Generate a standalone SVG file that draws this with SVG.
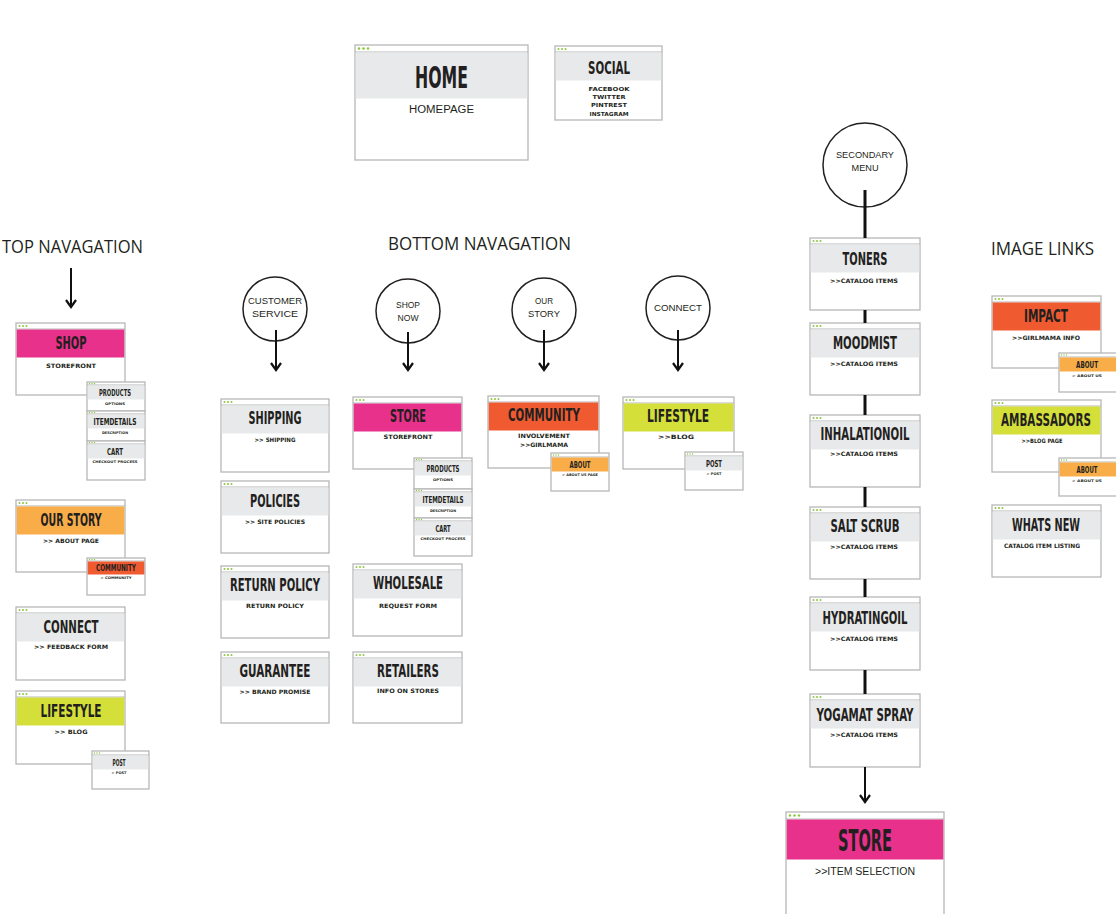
<svg xmlns="http://www.w3.org/2000/svg" width="1116" height="914" viewBox="0 0 1116 914">
<style>
.fr{fill:#fff;stroke:#b7b7b7;stroke-width:1.3}
.sp{stroke:#b7b7b7;stroke-width:1}
.d{fill:#8dc63f}
.g{fill:#e8e9ea}
.pk{fill:#e8318a}
.or{fill:#f9ad49}
.rd{fill:#ef5a30}
.yl{fill:#d5df3a}
.t{font-family:"Liberation Sans Narrow","DejaVu Sans Condensed",sans-serif;font-weight:bold;text-anchor:middle;fill:#231f20}
.s{font-family:"DejaVu Sans","Liberation Sans",sans-serif;font-weight:bold;text-anchor:middle;fill:#231f20}
.c{fill:#fff;stroke:#231f20;stroke-width:1.5}
.ct{font-family:"Liberation Sans",sans-serif;font-size:9px;text-anchor:middle;fill:#231f20}
.h{font-family:"Open Sans","Liberation Sans",sans-serif;font-size:18px;fill:#231f20}
.ln{stroke:#111;stroke-width:2;fill:none}
.lt{stroke:#111;stroke-width:3;fill:none}
</style>
<defs>
<marker id="ah" markerUnits="userSpaceOnUse" markerWidth="10" markerHeight="12" refX="8" refY="6" orient="auto" viewBox="0 0 10 12">
<path d="M1,1 L8,6 L1,11" fill="none" stroke="#111" stroke-width="2.2"/>
</marker>
</defs>
<rect width="1116" height="914" fill="#fff"/>

<g id="labels">
<text class="h" x="2" y="253" textLength="141" lengthAdjust="spacingAndGlyphs">TOP NAVAGATION</text>
<text class="h" x="388" y="250" textLength="183" lengthAdjust="spacingAndGlyphs">BOTTOM NAVAGATION</text>
<text class="h" x="991" y="255" textLength="103" lengthAdjust="spacingAndGlyphs">IMAGE LINKS</text>
</g>

<g id="home">
<rect class="fr" x="355" y="45" width="173" height="115"/>
<line class="sp" x1="355" y1="52" x2="528" y2="52"/>
<circle class="d" cx="359" cy="48.5" r="1.3"/><circle class="d" cx="363.5" cy="48.5" r="1.3"/><circle class="d" cx="368" cy="48.5" r="1.3"/>
<rect class="g" x="355.7" y="52.5" width="171.6" height="46"/>
<text class="t" x="441.5" y="88" font-size="30" textLength="53" lengthAdjust="spacingAndGlyphs">HOME</text>
<text x="441.5" y="113" font-family="Liberation Sans,sans-serif" font-size="10" text-anchor="middle" fill="#231f20" textLength="65" lengthAdjust="spacingAndGlyphs">HOMEPAGE</text>
</g>

<g id="social">
<rect class="fr" x="555" y="46" width="107" height="74"/>
<line class="sp" x1="555" y1="52" x2="662" y2="52"/>
<circle class="d" cx="558.5" cy="49" r="1"/><circle class="d" cx="562" cy="49" r="1"/><circle class="d" cx="565.5" cy="49" r="1"/>
<rect class="g" x="555.7" y="52.5" width="105.6" height="28"/>
<text class="t" x="609" y="74" font-size="17" textLength="42" lengthAdjust="spacingAndGlyphs">SOCIAL</text>
<text class="s" x="609" y="91" font-size="5.5" textLength="41" lengthAdjust="spacingAndGlyphs">FACEBOOK</text>
<text class="s" x="609" y="99" font-size="5.5" textLength="33" lengthAdjust="spacingAndGlyphs">TWITTER</text>
<text class="s" x="609" y="107" font-size="5.5" textLength="36" lengthAdjust="spacingAndGlyphs">PINTREST</text>
<text class="s" x="609" y="116" font-size="5.5" textLength="39" lengthAdjust="spacingAndGlyphs">INSTAGRAM</text>
</g>

<g id="shop">
<rect class="fr" x="16" y="323" width="109" height="72"/>
<line class="sp" x1="16" y1="329" x2="125" y2="329"/>
<circle class="d" cx="19.5" cy="326" r="1"/><circle class="d" cx="23" cy="326" r="1"/><circle class="d" cx="26.5" cy="326" r="1"/>
<rect class="pk" x="16.7" y="329.5" width="107.6" height="28"/>
<text class="t" x="71" y="349" font-size="17" textLength="31" lengthAdjust="spacingAndGlyphs">SHOP</text>
<text class="s" x="71" y="368" font-size="6" textLength="50" lengthAdjust="spacingAndGlyphs">STOREFRONT</text>
</g>
<g id="shop-products">
<rect class="fr" x="87" y="382" width="58" height="29"/>
<line class="sp" x1="87" y1="385" x2="145" y2="385"/>
<circle class="d" cx="89.5" cy="383.5" r="0.7"/><circle class="d" cx="92" cy="383.5" r="0.7"/><circle class="d" cx="94.5" cy="383.5" r="0.7"/>
<rect class="g" x="87.7" y="385.5" width="56.6" height="14"/>
<text class="t" x="115" y="396" font-size="9" textLength="32" lengthAdjust="spacingAndGlyphs">PRODUCTS</text>
<text class="s" x="115" y="405" font-size="3.5" textLength="20" lengthAdjust="spacingAndGlyphs">OPTIONS</text>
</g>
<g id="shop-itemdetails">
<rect class="fr" x="87" y="411" width="58" height="30"/>
<line class="sp" x1="87" y1="414" x2="145" y2="414"/>
<circle class="d" cx="89.5" cy="412.5" r="0.7"/><circle class="d" cx="92" cy="412.5" r="0.7"/><circle class="d" cx="94.5" cy="412.5" r="0.7"/>
<rect class="g" x="87.7" y="414.5" width="56.6" height="14"/>
<text class="t" x="115" y="425" font-size="9" textLength="43" lengthAdjust="spacingAndGlyphs">ITEMDETAILS</text>
<text class="s" x="115" y="434" font-size="3.5" textLength="26" lengthAdjust="spacingAndGlyphs">DESCRIPTION</text>
</g>
<g id="shop-cart">
<rect class="fr" x="87" y="441" width="58" height="39"/>
<line class="sp" x1="87" y1="444" x2="145" y2="444"/>
<circle class="d" cx="89.5" cy="442.5" r="0.7"/><circle class="d" cx="92" cy="442.5" r="0.7"/><circle class="d" cx="94.5" cy="442.5" r="0.7"/>
<rect class="g" x="87.7" y="444.5" width="56.6" height="14"/>
<text class="t" x="115" y="455" font-size="9" textLength="16" lengthAdjust="spacingAndGlyphs">CART</text>
<text class="s" x="115" y="463" font-size="3.5" textLength="45" lengthAdjust="spacingAndGlyphs">CHECKOUT PROCESS</text>
</g>

<g id="our-story">
<rect class="fr" x="16" y="500" width="109" height="72"/>
<line class="sp" x1="16" y1="506" x2="125" y2="506"/>
<circle class="d" cx="19.5" cy="503" r="1"/><circle class="d" cx="23" cy="503" r="1"/><circle class="d" cx="26.5" cy="503" r="1"/>
<rect class="or" x="16.7" y="506.5" width="107.6" height="28"/>
<text class="t" x="71" y="526" font-size="17" textLength="61" lengthAdjust="spacingAndGlyphs">OUR STORY</text>
<text class="s" x="71" y="543" font-size="6" textLength="56" lengthAdjust="spacingAndGlyphs">&gt;&gt; ABOUT PAGE</text>
</g>
<g id="our-story-community">
<rect class="fr" x="87" y="558" width="58" height="37"/>
<line class="sp" x1="87" y1="561" x2="145" y2="561"/>
<circle class="d" cx="89.5" cy="559.5" r="0.7"/><circle class="d" cx="92" cy="559.5" r="0.7"/><circle class="d" cx="94.5" cy="559.5" r="0.7"/>
<rect class="rd" x="87.7" y="561.5" width="56.6" height="13"/>
<text class="t" x="116" y="571" font-size="8" textLength="40" lengthAdjust="spacingAndGlyphs">COMMUNITY</text>
<text class="s" x="116" y="579" font-size="3.5" textLength="31" lengthAdjust="spacingAndGlyphs">&gt; COMMUNITY</text>
</g>

<g id="connect">
<rect class="fr" x="16" y="607" width="109" height="73"/>
<line class="sp" x1="16" y1="613" x2="125" y2="613"/>
<circle class="d" cx="19.5" cy="610" r="1"/><circle class="d" cx="23" cy="610" r="1"/><circle class="d" cx="26.5" cy="610" r="1"/>
<rect class="g" x="16.7" y="613.5" width="107.6" height="28"/>
<text class="t" x="71" y="633" font-size="17" textLength="55" lengthAdjust="spacingAndGlyphs">CONNECT</text>
<text class="s" x="71" y="649" font-size="6" textLength="74" lengthAdjust="spacingAndGlyphs">&gt;&gt; FEEDBACK FORM</text>
</g>

<g id="lifestyle">
<rect class="fr" x="16" y="691" width="109" height="73"/>
<line class="sp" x1="16" y1="697" x2="125" y2="697"/>
<circle class="d" cx="19.5" cy="694" r="1"/><circle class="d" cx="23" cy="694" r="1"/><circle class="d" cx="26.5" cy="694" r="1"/>
<rect class="yl" x="16.7" y="697.5" width="107.6" height="28"/>
<text class="t" x="71" y="717" font-size="17" textLength="61" lengthAdjust="spacingAndGlyphs">LIFESTYLE</text>
<text class="s" x="71" y="734" font-size="6" textLength="33" lengthAdjust="spacingAndGlyphs">&gt;&gt; BLOG</text>
</g>
<g id="lifestyle-post">
<rect class="fr" x="92" y="751" width="57" height="38"/>
<line class="sp" x1="92" y1="755" x2="149" y2="755"/>
<circle class="d" cx="94.5" cy="753" r="0.7"/><circle class="d" cx="97" cy="753" r="0.7"/><circle class="d" cx="99.5" cy="753" r="0.7"/>
<rect class="g" x="92.7" y="755.5" width="55.6" height="14"/>
<text class="t" x="119" y="766" font-size="9" textLength="13" lengthAdjust="spacingAndGlyphs">POST</text>
<text class="s" x="119" y="774" font-size="3.5" textLength="15" lengthAdjust="spacingAndGlyphs">&gt; POST</text>
</g>

<g id="customer-service">
<circle class="c" cx="275" cy="309" r="32"/>
<text class="ct" x="275" y="304" textLength="54" lengthAdjust="spacingAndGlyphs">CUSTOMER</text>
<text class="ct" x="275" y="317" textLength="46" lengthAdjust="spacingAndGlyphs">SERVICE</text>
</g>
<g id="shop-now">
<circle class="c" cx="408" cy="311" r="32"/>
<text class="ct" x="408" y="308" textLength="24" lengthAdjust="spacingAndGlyphs">SHOP</text>
<text class="ct" x="408" y="321" textLength="21" lengthAdjust="spacingAndGlyphs">NOW</text>
</g>
<g id="our-story-circle">
<circle class="c" cx="544" cy="310" r="32"/>
<text class="ct" x="544" y="304" textLength="18" lengthAdjust="spacingAndGlyphs">OUR</text>
<text class="ct" x="544" y="317" textLength="32" lengthAdjust="spacingAndGlyphs">STORY</text>
</g>
<g id="connect-circle">
<circle class="c" cx="678" cy="308" r="32"/>
<text class="ct" x="678" y="311" textLength="48" lengthAdjust="spacingAndGlyphs">CONNECT</text>
</g>

<g id="shipping">
<rect class="fr" x="221" y="399" width="108" height="73"/>
<line class="sp" x1="221" y1="405" x2="329" y2="405"/>
<circle class="d" cx="224.5" cy="402" r="1"/><circle class="d" cx="228" cy="402" r="1"/><circle class="d" cx="231.5" cy="402" r="1"/>
<rect class="g" x="221.7" y="405.5" width="106.6" height="28"/>
<text class="t" x="275" y="424" font-size="17" textLength="53" lengthAdjust="spacingAndGlyphs">SHIPPING</text>
<text class="s" x="275" y="442" font-size="6" textLength="41" lengthAdjust="spacingAndGlyphs">&gt;&gt; SHIPPING</text>
</g>
<g id="policies">
<rect class="fr" x="221" y="481" width="108" height="72"/>
<line class="sp" x1="221" y1="487" x2="329" y2="487"/>
<circle class="d" cx="224.5" cy="484" r="1"/><circle class="d" cx="228" cy="484" r="1"/><circle class="d" cx="231.5" cy="484" r="1"/>
<rect class="g" x="221.7" y="487.5" width="106.6" height="28"/>
<text class="t" x="275" y="507" font-size="17" textLength="50" lengthAdjust="spacingAndGlyphs">POLICIES</text>
<text class="s" x="275" y="524" font-size="6" textLength="60" lengthAdjust="spacingAndGlyphs">&gt;&gt; SITE POLICIES</text>
</g>
<g id="return-policy">
<rect class="fr" x="221" y="566" width="108" height="72"/>
<line class="sp" x1="221" y1="572" x2="329" y2="572"/>
<circle class="d" cx="224.5" cy="569" r="1"/><circle class="d" cx="228" cy="569" r="1"/><circle class="d" cx="231.5" cy="569" r="1"/>
<rect class="g" x="221.7" y="572.5" width="106.6" height="28"/>
<text class="t" x="275" y="591" font-size="17" textLength="90" lengthAdjust="spacingAndGlyphs">RETURN POLICY</text>
<text class="s" x="275" y="608" font-size="6" textLength="58" lengthAdjust="spacingAndGlyphs">RETURN POLICY</text>
</g>
<g id="guarantee">
<rect class="fr" x="221" y="652" width="108" height="71"/>
<line class="sp" x1="221" y1="658" x2="329" y2="658"/>
<circle class="d" cx="224.5" cy="655" r="1"/><circle class="d" cx="228" cy="655" r="1"/><circle class="d" cx="231.5" cy="655" r="1"/>
<rect class="g" x="221.7" y="658.5" width="106.6" height="28"/>
<text class="t" x="275" y="677" font-size="17" textLength="71" lengthAdjust="spacingAndGlyphs">GUARANTEE</text>
<text class="s" x="275" y="694" font-size="6" textLength="71" lengthAdjust="spacingAndGlyphs">&gt;&gt; BRAND PROMISE</text>
</g>

<g id="store">
<rect class="fr" x="353" y="397" width="109" height="72"/>
<line class="sp" x1="353" y1="403" x2="462" y2="403"/>
<circle class="d" cx="356.5" cy="400" r="1"/><circle class="d" cx="360" cy="400" r="1"/><circle class="d" cx="363.5" cy="400" r="1"/>
<rect class="pk" x="353.7" y="403.5" width="107.6" height="28"/>
<text class="t" x="408" y="422" font-size="17" textLength="36" lengthAdjust="spacingAndGlyphs">STORE</text>
<text class="s" x="408" y="439" font-size="6" textLength="49" lengthAdjust="spacingAndGlyphs">STOREFRONT</text>
</g>
<g id="store-products">
<rect class="fr" x="414" y="458" width="58" height="31"/>
<line class="sp" x1="414" y1="461" x2="472" y2="461"/>
<circle class="d" cx="416.5" cy="459.5" r="0.7"/><circle class="d" cx="419" cy="459.5" r="0.7"/><circle class="d" cx="421.5" cy="459.5" r="0.7"/>
<rect class="g" x="414.7" y="461.5" width="56.6" height="14"/>
<text class="t" x="443" y="472" font-size="9" textLength="33" lengthAdjust="spacingAndGlyphs">PRODUCTS</text>
<text class="s" x="443" y="481" font-size="3.5" textLength="20" lengthAdjust="spacingAndGlyphs">OPTIONS</text>
</g>
<g id="store-itemdetails">
<rect class="fr" x="414" y="489" width="58" height="29"/>
<line class="sp" x1="414" y1="492" x2="472" y2="492"/>
<circle class="d" cx="416.5" cy="490.5" r="0.7"/><circle class="d" cx="419" cy="490.5" r="0.7"/><circle class="d" cx="421.5" cy="490.5" r="0.7"/>
<rect class="g" x="414.7" y="492.5" width="56.6" height="14"/>
<text class="t" x="443" y="503" font-size="9" textLength="41" lengthAdjust="spacingAndGlyphs">ITEMDETAILS</text>
<text class="s" x="443" y="512" font-size="3.5" textLength="26" lengthAdjust="spacingAndGlyphs">DESCRIPTION</text>
</g>
<g id="store-cart">
<rect class="fr" x="414" y="518" width="58" height="38"/>
<line class="sp" x1="414" y1="521" x2="472" y2="521"/>
<circle class="d" cx="416.5" cy="519.5" r="0.7"/><circle class="d" cx="419" cy="519.5" r="0.7"/><circle class="d" cx="421.5" cy="519.5" r="0.7"/>
<rect class="g" x="414.7" y="521.5" width="56.6" height="14"/>
<text class="t" x="443" y="532" font-size="9" textLength="15" lengthAdjust="spacingAndGlyphs">CART</text>
<text class="s" x="443" y="540" font-size="3.5" textLength="45" lengthAdjust="spacingAndGlyphs">CHECKOUT PROCESS</text>
</g>
<g id="wholesale">
<rect class="fr" x="353" y="564" width="109" height="72"/>
<line class="sp" x1="353" y1="570" x2="462" y2="570"/>
<circle class="d" cx="356.5" cy="567" r="1"/><circle class="d" cx="360" cy="567" r="1"/><circle class="d" cx="363.5" cy="567" r="1"/>
<rect class="g" x="353.7" y="570.5" width="107.6" height="28"/>
<text class="t" x="408" y="589" font-size="17" textLength="70" lengthAdjust="spacingAndGlyphs">WHOLESALE</text>
<text class="s" x="408" y="608" font-size="6" textLength="58" lengthAdjust="spacingAndGlyphs">REQUEST FORM</text>
</g>
<g id="retailers">
<rect class="fr" x="353" y="652" width="109" height="71"/>
<line class="sp" x1="353" y1="658" x2="462" y2="658"/>
<circle class="d" cx="356.5" cy="655" r="1"/><circle class="d" cx="360" cy="655" r="1"/><circle class="d" cx="363.5" cy="655" r="1"/>
<rect class="g" x="353.7" y="658.5" width="107.6" height="28"/>
<text class="t" x="408" y="677" font-size="17" textLength="62" lengthAdjust="spacingAndGlyphs">RETAILERS</text>
<text class="s" x="408" y="693" font-size="6" textLength="62" lengthAdjust="spacingAndGlyphs">INFO ON STORES</text>
</g>

<g id="community">
<rect class="fr" x="488" y="396" width="111" height="72"/>
<line class="sp" x1="488" y1="402" x2="599" y2="402"/>
<circle class="d" cx="491.5" cy="399" r="1"/><circle class="d" cx="495" cy="399" r="1"/><circle class="d" cx="498.5" cy="399" r="1"/>
<rect class="rd" x="488.7" y="402.5" width="109.6" height="28"/>
<text class="t" x="544" y="421" font-size="17" textLength="72" lengthAdjust="spacingAndGlyphs">COMMUNITY</text>
<text class="s" x="544" y="438" font-size="6" textLength="52" lengthAdjust="spacingAndGlyphs">INVOLVEMENT</text>
<text class="s" x="544" y="447" font-size="6" textLength="48" lengthAdjust="spacingAndGlyphs">&gt;&gt;GIRLMAMA</text>
</g>
<g id="community-about">
<rect class="fr" x="551" y="453" width="58" height="38"/>
<line class="sp" x1="551" y1="457" x2="609" y2="457"/>
<circle class="d" cx="553.5" cy="455" r="0.7"/><circle class="d" cx="556" cy="455" r="0.7"/><circle class="d" cx="558.5" cy="455" r="0.7"/>
<rect class="or" x="551.7" y="457.5" width="56.6" height="14"/>
<text class="t" x="580" y="468" font-size="9" textLength="21" lengthAdjust="spacingAndGlyphs">ABOUT</text>
<text class="s" x="580" y="476" font-size="3.5" textLength="36" lengthAdjust="spacingAndGlyphs">&gt; ABOUT US PAGE</text>
</g>

<g id="lifestyle-mid">
<rect class="fr" x="623" y="397" width="111" height="72"/>
<line class="sp" x1="623" y1="403" x2="734" y2="403"/>
<circle class="d" cx="626.5" cy="400" r="1"/><circle class="d" cx="630" cy="400" r="1"/><circle class="d" cx="633.5" cy="400" r="1"/>
<rect class="yl" x="623.7" y="403.5" width="109.6" height="28"/>
<text class="t" x="678" y="422" font-size="17" textLength="62" lengthAdjust="spacingAndGlyphs">LIFESTYLE</text>
<text class="s" x="676" y="439" font-size="6" textLength="36" lengthAdjust="spacingAndGlyphs">&gt;&gt;BLOG</text>
</g>
<g id="lifestyle-mid-post">
<rect class="fr" x="685" y="452" width="58" height="38"/>
<line class="sp" x1="685" y1="456" x2="743" y2="456"/>
<circle class="d" cx="687.5" cy="454" r="0.7"/><circle class="d" cx="690" cy="454" r="0.7"/><circle class="d" cx="692.5" cy="454" r="0.7"/>
<rect class="g" x="685.7" y="456.5" width="56.6" height="14"/>
<text class="t" x="714" y="467" font-size="9" textLength="16" lengthAdjust="spacingAndGlyphs">POST</text>
<text class="s" x="714" y="475" font-size="3.5" textLength="15" lengthAdjust="spacingAndGlyphs">&gt; POST</text>
</g>

<g id="secondary-menu">
<circle class="c" cx="865" cy="165" r="42"/>
<text class="ct" x="865" y="158" textLength="58" lengthAdjust="spacingAndGlyphs">SECONDARY</text>
<text class="ct" x="865" y="171" textLength="27" lengthAdjust="spacingAndGlyphs">MENU</text>
</g>
<g id="toners">
<rect class="fr" x="810" y="238" width="110" height="72"/>
<line class="sp" x1="810" y1="244" x2="920" y2="244"/>
<circle class="d" cx="813.5" cy="241" r="1"/><circle class="d" cx="817" cy="241" r="1"/><circle class="d" cx="820.5" cy="241" r="1"/>
<rect class="g" x="810.7" y="244.5" width="108.6" height="28"/>
<text class="t" x="865" y="265" font-size="17" textLength="45" lengthAdjust="spacingAndGlyphs">TONERS</text>
<text class="s" x="864" y="283" font-size="6" textLength="68" lengthAdjust="spacingAndGlyphs">&gt;&gt;CATALOG ITEMS</text>
</g>
<g id="mood-mist">
<rect class="fr" x="810" y="323" width="110" height="72"/>
<line class="sp" x1="810" y1="329" x2="920" y2="329"/>
<circle class="d" cx="813.5" cy="326" r="1"/><circle class="d" cx="817" cy="326" r="1"/><circle class="d" cx="820.5" cy="326" r="1"/>
<rect class="g" x="810.7" y="329.5" width="108.6" height="28"/>
<text class="t" x="865" y="349" font-size="17" textLength="64" lengthAdjust="spacingAndGlyphs">MOODMIST</text>
<text class="s" x="864" y="366" font-size="6" textLength="68" lengthAdjust="spacingAndGlyphs">&gt;&gt;CATALOG ITEMS</text>
</g>
<g id="inhalation-oil">
<rect class="fr" x="810" y="415" width="110" height="72"/>
<line class="sp" x1="810" y1="421" x2="920" y2="421"/>
<circle class="d" cx="813.5" cy="418" r="1"/><circle class="d" cx="817" cy="418" r="1"/><circle class="d" cx="820.5" cy="418" r="1"/>
<rect class="g" x="810.7" y="421.5" width="108.6" height="28"/>
<text class="t" x="865" y="440" font-size="17" textLength="89" lengthAdjust="spacingAndGlyphs">INHALATIONOIL</text>
<text class="s" x="864" y="456" font-size="6" textLength="68" lengthAdjust="spacingAndGlyphs">&gt;&gt;CATALOG ITEMS</text>
</g>
<g id="salt-scrub">
<rect class="fr" x="810" y="507" width="110" height="72"/>
<line class="sp" x1="810" y1="513" x2="920" y2="513"/>
<circle class="d" cx="813.5" cy="510" r="1"/><circle class="d" cx="817" cy="510" r="1"/><circle class="d" cx="820.5" cy="510" r="1"/>
<rect class="g" x="810.7" y="513.5" width="108.6" height="28"/>
<text class="t" x="865" y="532" font-size="17" textLength="69" lengthAdjust="spacingAndGlyphs">SALT SCRUB</text>
<text class="s" x="864" y="549" font-size="6" textLength="68" lengthAdjust="spacingAndGlyphs">&gt;&gt;CATALOG ITEMS</text>
</g>
<g id="hydrating-oil">
<rect class="fr" x="810" y="597" width="110" height="73"/>
<line class="sp" x1="810" y1="603" x2="920" y2="603"/>
<circle class="d" cx="813.5" cy="600" r="1"/><circle class="d" cx="817" cy="600" r="1"/><circle class="d" cx="820.5" cy="600" r="1"/>
<rect class="g" x="810.7" y="603.5" width="108.6" height="28"/>
<text class="t" x="865" y="624" font-size="17" textLength="85" lengthAdjust="spacingAndGlyphs">HYDRATINGOIL</text>
<text class="s" x="864" y="641" font-size="6" textLength="68" lengthAdjust="spacingAndGlyphs">&gt;&gt;CATALOG ITEMS</text>
</g>
<g id="yoga-mat-spray">
<rect class="fr" x="810" y="694" width="110" height="73"/>
<line class="sp" x1="810" y1="700" x2="920" y2="700"/>
<circle class="d" cx="813.5" cy="697" r="1"/><circle class="d" cx="817" cy="697" r="1"/><circle class="d" cx="820.5" cy="697" r="1"/>
<rect class="g" x="810.7" y="700.5" width="108.6" height="28"/>
<text class="t" x="865" y="721" font-size="17" textLength="97" lengthAdjust="spacingAndGlyphs">YOGAMAT SPRAY</text>
<text class="s" x="864" y="737" font-size="6" textLength="68" lengthAdjust="spacingAndGlyphs">&gt;&gt;CATALOG ITEMS</text>
</g>
<g id="store-secondary">
<rect class="fr" x="786" y="812" width="158" height="112"/>
<line class="sp" x1="786" y1="819" x2="944" y2="819"/>
<circle class="d" cx="790" cy="815.5" r="1.2"/><circle class="d" cx="794.5" cy="815.5" r="1.2"/><circle class="d" cx="799" cy="815.5" r="1.2"/>
<rect class="pk" x="786.7" y="819.5" width="156.6" height="40"/>
<text class="t" x="865" y="851" font-size="30" textLength="54" lengthAdjust="spacingAndGlyphs">STORE</text>
<text x="865" y="875" font-family="Liberation Sans,sans-serif" font-size="10" text-anchor="middle" fill="#231f20" textLength="100" lengthAdjust="spacingAndGlyphs">&gt;&gt;ITEM SELECTION</text>
</g>

<g id="impact">
<rect class="fr" x="992" y="296" width="109" height="72"/>
<line class="sp" x1="992" y1="302" x2="1101" y2="302"/>
<circle class="d" cx="995.5" cy="299" r="1"/><circle class="d" cx="999" cy="299" r="1"/><circle class="d" cx="1002.5" cy="299" r="1"/>
<rect class="rd" x="992.7" y="302.5" width="107.6" height="28"/>
<text class="t" x="1046" y="322" font-size="17" textLength="44" lengthAdjust="spacingAndGlyphs">IMPACT</text>
<text class="s" x="1046" y="340" font-size="6" textLength="68" lengthAdjust="spacingAndGlyphs">&gt;&gt;GIRLMAMA INFO</text>
</g>
<g id="impact-about">
<rect class="fr" x="1059" y="353" width="60" height="39"/>
<line class="sp" x1="1059" y1="357" x2="1119" y2="357"/>
<circle class="d" cx="1061.5" cy="355" r="0.7"/><circle class="d" cx="1064" cy="355" r="0.7"/><circle class="d" cx="1066.5" cy="355" r="0.7"/>
<rect class="or" x="1059.7" y="357.5" width="58.6" height="14"/>
<text class="t" x="1087" y="368" font-size="9" textLength="22" lengthAdjust="spacingAndGlyphs">ABOUT</text>
<text class="s" x="1087" y="377" font-size="3.5" textLength="30" lengthAdjust="spacingAndGlyphs">&gt; ABOUT US</text>
</g>
<g id="ambassadors">
<rect class="fr" x="992" y="400" width="109" height="72"/>
<line class="sp" x1="992" y1="406" x2="1101" y2="406"/>
<circle class="d" cx="995.5" cy="403" r="1"/><circle class="d" cx="999" cy="403" r="1"/><circle class="d" cx="1002.5" cy="403" r="1"/>
<rect class="yl" x="992.7" y="406.5" width="107.6" height="28"/>
<text class="t" x="1046" y="426" font-size="17" textLength="90" lengthAdjust="spacingAndGlyphs">AMBASSADORS</text>
<text class="s" x="1042" y="443" font-size="6" textLength="41" lengthAdjust="spacingAndGlyphs">&gt;&gt;BLOG PAGE</text>
</g>
<g id="ambassadors-about">
<rect class="fr" x="1059" y="458" width="60" height="38"/>
<line class="sp" x1="1059" y1="462" x2="1119" y2="462"/>
<circle class="d" cx="1061.5" cy="460" r="0.7"/><circle class="d" cx="1064" cy="460" r="0.7"/><circle class="d" cx="1066.5" cy="460" r="0.7"/>
<rect class="or" x="1059.7" y="462.5" width="58.6" height="14"/>
<text class="t" x="1087" y="473" font-size="9" textLength="21" lengthAdjust="spacingAndGlyphs">ABOUT</text>
<text class="s" x="1087" y="482" font-size="3.5" textLength="30" lengthAdjust="spacingAndGlyphs">&gt; ABOUT US</text>
</g>
<g id="whats-new">
<rect class="fr" x="992" y="505" width="109" height="72"/>
<line class="sp" x1="992" y1="511" x2="1101" y2="511"/>
<circle class="d" cx="995.5" cy="508" r="1"/><circle class="d" cx="999" cy="508" r="1"/><circle class="d" cx="1002.5" cy="508" r="1"/>
<rect class="g" x="992.7" y="511.5" width="107.6" height="28"/>
<text class="t" x="1046" y="531" font-size="17" textLength="68" lengthAdjust="spacingAndGlyphs">WHATS NEW</text>
<text class="s" x="1042" y="548" font-size="6" textLength="76" lengthAdjust="spacingAndGlyphs">CATALOG ITEM LISTING</text>
</g>

<g id="connectors">
<line class="ln" x1="71" y1="268" x2="71" y2="307" marker-end="url(#ah)"/>
<line class="ln" x1="276" y1="330" x2="276" y2="370" marker-end="url(#ah)"/>
<line class="ln" x1="408" y1="332" x2="408" y2="370" marker-end="url(#ah)"/>
<line class="ln" x1="544" y1="330" x2="544" y2="370" marker-end="url(#ah)"/>
<line class="ln" x1="678" y1="330" x2="678" y2="370" marker-end="url(#ah)"/>
<line class="lt" x1="865" y1="190" x2="865" y2="238"/>
<line class="lt" x1="865" y1="310" x2="865" y2="323"/>
<line class="lt" x1="865" y1="395" x2="865" y2="415"/>
<line class="lt" x1="865" y1="487" x2="865" y2="507"/>
<line class="lt" x1="865" y1="579" x2="865" y2="597"/>
<line class="lt" x1="865" y1="670" x2="865" y2="694"/>
<line class="ln" x1="865" y1="767" x2="865" y2="802" stroke-width="2.5" marker-end="url(#ah)"/>
</g>
</svg>
